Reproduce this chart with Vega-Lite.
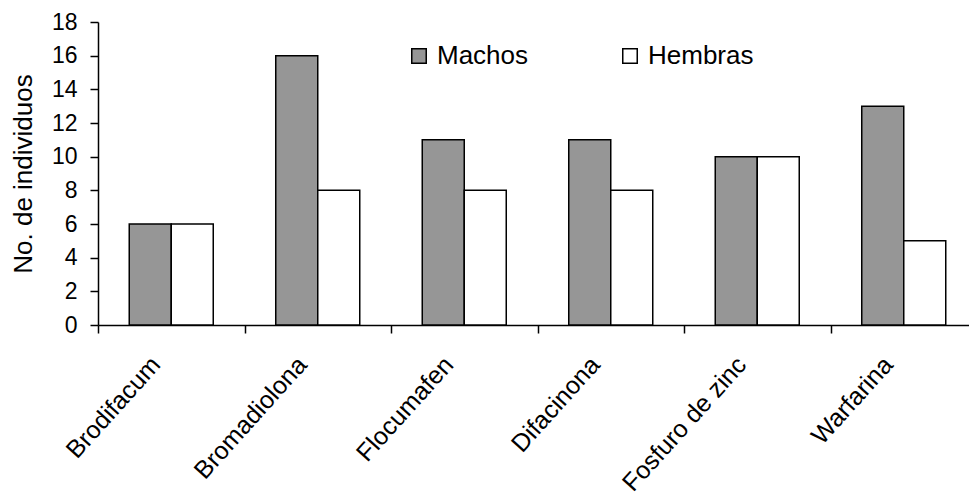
{
  "$schema": "https://vega.github.io/schema/vega-lite/v6.json",
  "autosize": {"type": "none"},
  "width": 871,
  "height": 303,
  "padding": {"left": 98, "top": 22, "right": 0, "bottom": 174},
  "background": "white",
  "config": {
    "view": {"stroke": null},
    "font": "Liberation Sans",
    "axis": {"grid": false, "domainColor": "black", "tickColor": "black", "labelColor": "black", "titleColor": "black", "domainWidth": 1.5, "tickWidth": 1.5}
  },
  "data": {
    "values": [
      {"producto": "Brodifacum", "sexo": "Machos", "n": 6},
      {"producto": "Brodifacum", "sexo": "Hembras", "n": 6},
      {"producto": "Bromadiolona", "sexo": "Machos", "n": 16},
      {"producto": "Bromadiolona", "sexo": "Hembras", "n": 8},
      {"producto": "Flocumafen", "sexo": "Machos", "n": 11},
      {"producto": "Flocumafen", "sexo": "Hembras", "n": 8},
      {"producto": "Difacinona", "sexo": "Machos", "n": 11},
      {"producto": "Difacinona", "sexo": "Hembras", "n": 8},
      {"producto": "Fosfuro de zinc", "sexo": "Machos", "n": 10},
      {"producto": "Fosfuro de zinc", "sexo": "Hembras", "n": 10},
      {"producto": "Warfarina", "sexo": "Machos", "n": 13},
      {"producto": "Warfarina", "sexo": "Hembras", "n": 5}
    ]
  },
  "mark": {"type": "bar", "stroke": "black", "strokeWidth": 1.5, "clip": false},
  "encoding": {
    "x": {
      "field": "producto",
      "type": "nominal",
      "sort": null,
      "scale": {"paddingInner": 0, "paddingOuter": 0, "range": [0, 879]},
      "axis": {
        "title": null,
        "tickBand": "extent",
        "tickSize": 8,
        "labelAngle": -48,
        "labelAlign": "right",
        "labelBaseline": "middle",
        "labelPadding": 27,
        "labelOffset": -16,
        "labelFont": "Liberation Sans",
        "labelFontSize": 25,
        "labelLimit": 300,
        "labelOverlap": false
      }
    },
    "xOffset": {
      "field": "sexo",
      "type": "nominal",
      "sort": ["Machos", "Hembras"],
      "scale": {"paddingInner": 0, "paddingOuter": 0.744}
    },
    "y": {
      "field": "n",
      "type": "quantitative",
      "scale": {"domain": [0, 18], "nice": false},
      "axis": {
        "title": "No. de individuos",
        "values": [0, 2, 4, 6, 8, 10, 12, 14, 16, 18],
        "tickSize": 8,
        "labelPadding": 13,
        "labelFont": "Liberation Sans",
        "labelFontSize": 23,
        "titleFont": "Liberation Sans",
        "titleFontSize": 26,
        "titleFontWeight": "normal",
        "titlePadding": 15
      }
    },
    "fill": {
      "field": "sexo",
      "type": "nominal",
      "sort": ["Machos", "Hembras"],
      "scale": {"domain": ["Machos", "Hembras"], "range": ["#969696", "#ffffff"]},
      "legend": {
        "title": null,
        "orient": "none",
        "legendX": 308,
        "legendY": 21,
        "direction": "horizontal",
        "columns": 2,
        "symbolType": "square",
        "symbolSize": 210,
        "symbolStrokeColor": "black",
        "symbolStrokeWidth": 1.5,
        "symbolOpacity": 1,
        "labelFont": "Liberation Sans",
        "labelFontSize": 26,
        "labelColor": "black",
        "labelOffset": 5,
        "columnPadding": 88
      }
    }
  }
}
